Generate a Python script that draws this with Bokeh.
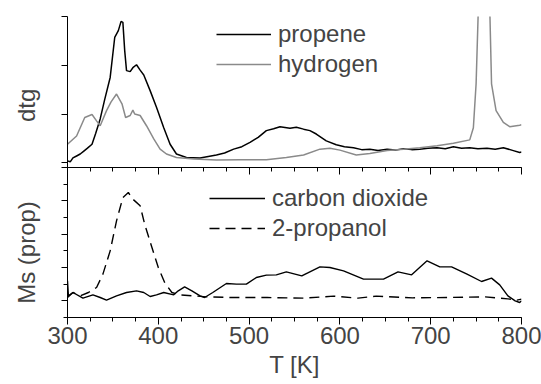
from bokeh.plotting import figure
from bokeh.models import Range1d, FixedTicker, LinearAxis, Legend, LegendItem, SingleIntervalTicker
from bokeh.layouts import gridplot
from bokeh.embed import file_html
from bokeh.resources import INLINE

FONT = "Liberation Sans"
NB = "\u00a0"

# ---- data ----
T_propene = [300, 303, 306, 310, 314, 318, 322, 327, 331, 336, 341, 347, 352, 356, 359, 361, 363,
             365, 369, 372, 376, 380, 384, 391, 398, 406, 413, 420, 431, 446, 455, 464, 473, 483,
             492, 501, 510, 519, 527, 534, 545, 552, 560, 567, 574, 585, 596, 605, 615, 624, 633,
             642, 652, 661, 670, 679, 688, 697, 707, 716, 725, 734, 743, 752, 762, 771, 780, 791, 798, 800]
propene = [0.04, 0.02, 0.10, 0.14, 0.18, 0.24, 0.30, 0.38, 0.60, 0.90, 1.30, 1.75, 2.57, 2.71, 2.90,
           2.88, 2.30, 1.89, 1.87, 1.95, 2.01, 1.90, 1.80, 1.48, 1.14, 0.72, 0.38, 0.18, 0.11, 0.10,
           0.13, 0.16, 0.20, 0.28, 0.33, 0.42, 0.52, 0.66, 0.70, 0.74, 0.71, 0.73, 0.69, 0.66, 0.59,
           0.45, 0.37, 0.33, 0.31, 0.27, 0.28, 0.25, 0.28, 0.26, 0.29, 0.27, 0.28, 0.30, 0.31, 0.29,
           0.33, 0.30, 0.31, 0.29, 0.30, 0.28, 0.31, 0.25, 0.21, 0.22]

T_hydrogen = [300, 310, 319, 327, 332, 336, 343, 348, 354, 360, 364, 369, 372, 374, 380, 387, 395,
              402, 409, 420, 439, 464, 490, 519, 541, 560, 578, 589, 600, 618, 633, 652, 670, 688,
              707, 725, 743, 747, 750, 753, 759, 765, 767, 772, 780, 787, 798, 800]
hydrogen = [0.38, 0.55, 0.93, 0.99, 0.86, 0.76, 1.07, 1.25, 1.41, 1.21, 0.93, 0.97, 1.08, 1.00, 0.97,
            0.76, 0.49, 0.28, 0.18, 0.11, 0.08, 0.055, 0.06, 0.06, 0.11, 0.16, 0.28, 0.30, 0.26,
            0.16, 0.19, 0.25, 0.28, 0.31, 0.35, 0.40, 0.47, 0.72, 1.62, 3.50, 8.00, 3.20, 1.62,
            1.07, 0.83, 0.74, 0.77, 0.78]

T_co2 = [300, 301, 306, 317, 328, 336, 343, 354, 365, 376, 384, 391, 398, 406, 417, 422, 429, 437,
         446, 451, 460, 475, 486, 497, 508, 519, 530, 541, 558, 578, 589, 604, 626, 648, 664, 679,
         696, 710, 723, 740, 756, 767, 776, 785, 793, 798, 800]
co2 = [0.60, 0.15, 0.25, 0.08, 0.18, 0.10, 0.02, 0.15, 0.25, 0.30, 0.25, 0.13, 0.18, 0.25, 0.18,
       0.30, 0.42, 0.30, 0.15, 0.10, 0.25, 0.52, 0.50, 0.50, 0.70, 0.77, 0.78, 0.87, 0.75, 1.02,
       1.00, 0.90, 0.65, 0.65, 0.87, 0.78, 1.20, 1.02, 1.02, 0.80, 0.58, 0.68, 0.48, 0.15, 0.00,
       -0.05, 0.00]

T_propanol = [300, 306, 314, 323, 332, 339, 347, 354, 361, 367, 372, 380, 385, 393, 400, 407, 415,
              424, 438, 453, 480, 520, 560, 593, 620, 640, 680, 720, 760, 785, 795, 800]
propanol = [0.10, 0.25, 0.15, 0.25, 0.40, 0.80, 1.50, 2.40, 3.10, 3.25, 3.05, 2.85, 2.30, 1.60,
            1.00, 0.55, 0.25, 0.18, 0.15, 0.12, 0.10, 0.10, 0.08, 0.14, 0.08, 0.14, 0.09, 0.10,
            0.12, 0.06, 0.02, 0.05]

x_ticks_interval = 100
top_yticks = [0, 1, 2, 3]
bot_yticks = [0, 1, 2, 3, 4]
bot_yminor = [-0.5, 0.5, 1.5, 2.5, 3.5]


def hide_labels(ax):
    ax.major_label_text_font_size = "0px"
    ax.major_label_text_color = None
    ax.major_label_standoff = 0


def style_left(ax, label, ticks, minor):
    ax.ticker = FixedTicker(ticks=ticks, minor_ticks=minor)
    hide_labels(ax)
    ax.major_tick_out = 6
    ax.major_tick_in = 0
    ax.minor_tick_out = 4
    ax.minor_tick_in = 0
    ax.axis_line_color = "black"
    ax.major_tick_line_color = "black"
    ax.minor_tick_line_color = "black"
    ax.axis_label = label
    ax.axis_label_text_font = FONT
    ax.axis_label_text_font_size = "24px"
    ax.axis_label_text_font_style = "normal"
    ax.axis_label_standoff = 22


common = dict(output_backend="svg", toolbar_location=None, x_range=Range1d(300, 800),
              min_border_left=67, min_border_right=20, width=541)

top = figure(height=167, y_range=Range1d(-0.0965, 3.0), x_axis_location=None,
             min_border_top=16, min_border_bottom=0, **common)
top.grid.visible = False
top.outline_line_color = None
style_left(top.yaxis[0], "dtg" + NB * 4, top_yticks, [])

r_p = top.line(T_propene, propene, line_color="black", line_width=1.5)
r_h = top.line(T_hydrogen, hydrogen, line_color="#8a8a8a", line_width=1.5)
leg1 = Legend(items=[LegendItem(label="propene", renderers=[r_p]),
                     LegendItem(label="hydrogen", renderers=[r_h])],
              location=(149, 88), padding=0, margin=0, spacing=0,
              label_height=30, glyph_height=30, glyph_width=55, label_standoff=7,
              label_text_font=FONT, label_text_font_size="24px",
              border_line_color=None, background_fill_alpha=0)
top.add_layout(leg1)

bot = figure(height=217, y_range=Range1d(-0.5, 4.0), min_border_top=0, min_border_bottom=67, **common)
bot.grid.visible = False
bot.outline_line_color = None
style_left(bot.yaxis[0], "Ms (prop)" + NB * 3, bot_yticks, bot_yminor)

xa = bot.xaxis[0]
xa.ticker = SingleIntervalTicker(interval=x_ticks_interval, num_minor_ticks=4)
xa.major_tick_out = 7
xa.major_tick_in = 0
xa.minor_tick_out = 4
xa.minor_tick_in = 0
xa.major_label_text_font = FONT
xa.major_label_text_font_size = "24px"
xa.major_label_standoff = 2
xa.axis_label = "T [K]"
xa.axis_label_text_font = FONT
xa.axis_label_text_font_size = "24px"
xa.axis_label_text_font_style = "normal"
xa.axis_label_standoff = 4
xa.axis_line_color = "black"

mid = LinearAxis(ticker=SingleIntervalTicker(interval=x_ticks_interval, num_minor_ticks=4),
                 major_tick_in=7, major_tick_out=0, minor_tick_in=4, minor_tick_out=0,
                 axis_line_color="black")
hide_labels(mid)
bot.add_layout(mid, "above")

r_c = bot.line(T_co2, co2, line_color="black", line_width=1.4)
r_o = bot.line(T_propanol, propanol, line_color="black", line_width=1.4, line_dash="10 6")
leg2 = Legend(items=[LegendItem(label="carbon dioxide", renderers=[r_c]),
                     LegendItem(label="2-propanol", renderers=[r_o])],
              location=(142, 74), padding=0, margin=0, spacing=0,
              label_height=30, glyph_height=30, glyph_width=56, label_standoff=7,
              label_text_font=FONT, label_text_font_size="24px",
              border_line_color=None, background_fill_alpha=0)
bot.add_layout(leg2)

grid = gridplot([[top], [bot]], toolbar_location=None)

open("out.html", "w").write(file_html(grid, INLINE))
